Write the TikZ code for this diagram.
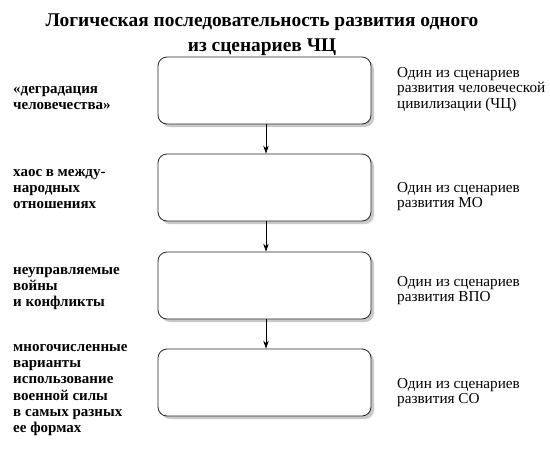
\documentclass[tikz,border=0pt]{standalone}
\usepackage{fontspec}
\setmainfont{Liberation Serif}
\usepackage{tikz}
\usetikzlibrary{shapes.geometric, arrows.meta, shadows}
\tikzstyle{stage} = [draw=black!85, line width=0.8pt, fill=white, rounded corners=9pt, minimum width=213pt, minimum height=67pt, drop shadow={fill=black!30, shadow xshift=3pt, shadow yshift=-3pt, opacity=0.7}]
\tikzstyle{arrow} = [line width=0.7pt, -{Stealth[length=8pt, width=5.5pt]}]
\tikzstyle{cause} = [anchor=west, align=left, inner sep=0pt, font=\fontsize{15}{16.2}\selectfont\bfseries]
\tikzstyle{scen} = [anchor=west, align=left, inner sep=0pt, font=\fontsize{15.2}{15.5}\selectfont]

\begin{document}
\begin{tikzpicture}[x=1pt, y=-1pt]
		\useasboundingbox (0,0) rectangle (550,451);
		\node[align=center, font=\fontsize{19.4}{25}\selectfont\bfseries] (title) at (262,35)
			{Логическая последовательность развития одного\\из сценариев ЧЦ};
		% этапы
		\foreach \N/\Yc in {1/90.5, 2/187.5, 3/285.5, 4/382.5}
		{
			\node[stage] (stage\N) at (264.5,\Yc) {};
		}
		\foreach \A/\B in {1/2, 2/3, 3/4}
		{
			\draw[arrow] ([xshift=1.5pt]stage\A.south) -- ([xshift=1.5pt]stage\B.north);
		}
		% слева
		\node[cause] (cause1) at (13,98) {«деградация\\человечества»};
		\node[cause] (cause2) at (13,189) {хаос в между-\\народных\\отношениях};
		\node[cause] (cause3) at (13,288.5) {неуправляемые\\войны\\и конфликты};
		\node[cause] (cause4) at (13,390) {многочисленные\\варианты\\использование\\военной силы\\в самых разных\\ее формах};
		% справа
		\node[scen] (scen1) at (397,89.5) {Один из сценариев\\развития человеческой\\цивилизации (ЧЦ)};
		\node[scen] (scen2) at (397,196.5) {Один из сценариев\\развития МО};
		\node[scen] (scen3) at (397,290.5) {Один из сценариев\\развития ВПО};
		\node[scen] (scen4) at (397,392.5) {Один из сценариев\\развития СО};
\end{tikzpicture}
\end{document}
